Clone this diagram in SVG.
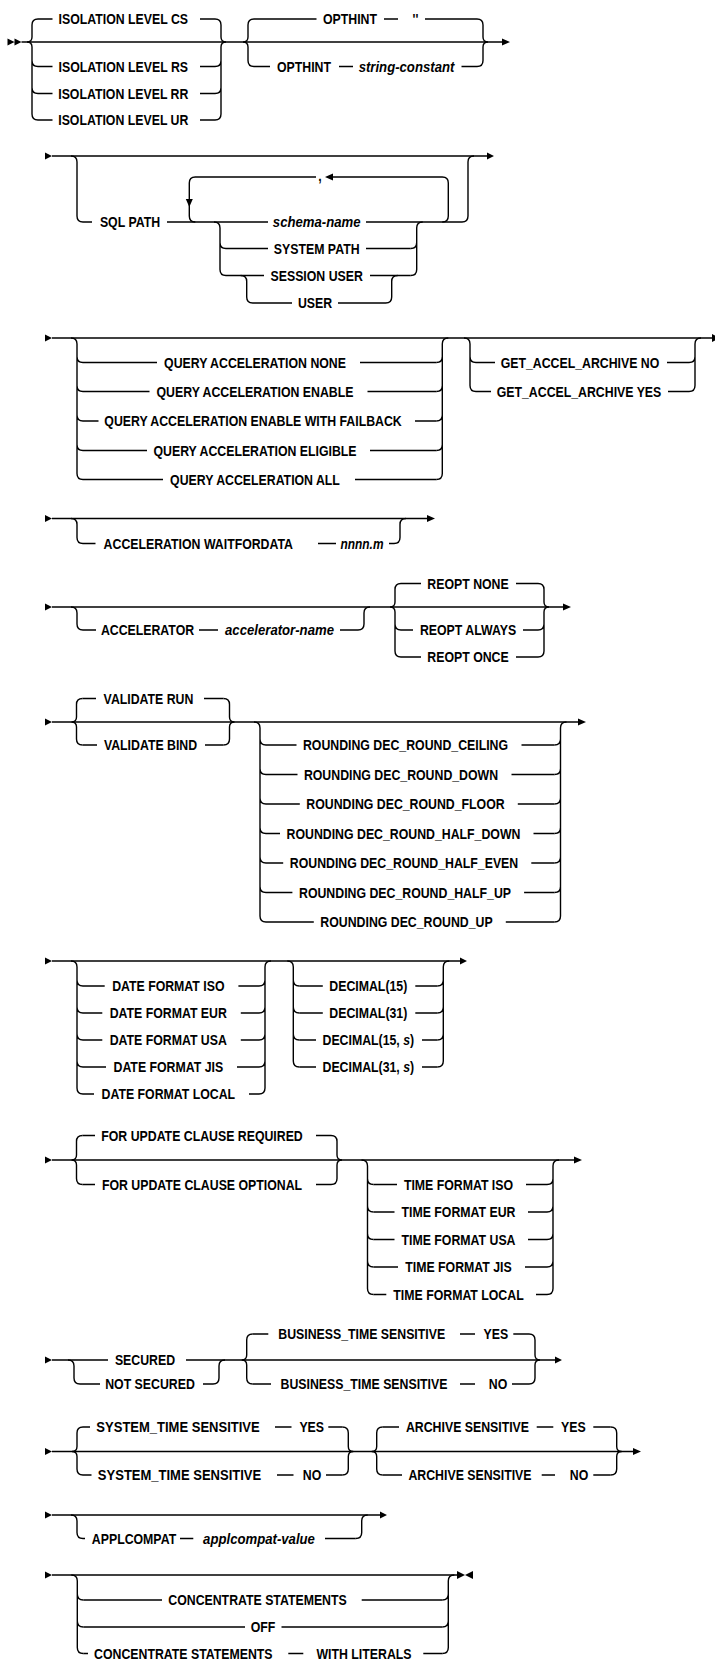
<svg xmlns="http://www.w3.org/2000/svg" width="715" height="1661" viewBox="0 0 715 1661">
<style>
.l{fill:none;stroke:#000;stroke-width:1.4}
.a{fill:#000;stroke:none}
text{font-family:"Liberation Sans",Arial,sans-serif;font-weight:bold;font-size:14px;fill:#000;text-anchor:middle}
.i{font-style:italic}
</style>
<rect width="715" height="1661" fill="#fff"/>
<g id="connectors">
<!-- S1 -->
<path class="a" d="M7.5 38.5L14.5 42L7.5 45.5ZM14.5 38.5L21.5 42L14.5 45.5ZM502 38.5L510 42L502 45.5Z"/>
<path class="l" d="M21.5 42H502"/>
<path class="l" d="M38 19Q32 19 32 25V37Q32 42 27 42M27 42Q32 42 32 47V114Q32 120 38 120M32 60.5Q32 66.5 38 66.5M32 87.5Q32 93.5 38 93.5"/>
<path class="l" d="M215 19Q221 19 221 25V37Q221 42 226 42M226 42Q221 42 221 47V114Q221 120 215 120M215 66.5Q221 66.5 221 60.5M215 93.5Q221 93.5 221 87.5"/>
<path class="l" d="M38 19H52.5M200 19H215M38 66.5H52.5M200 66.5H215M38 93.5H52.5M200 93.5H215M38 120H52.5M200 120H215"/>
<path class="l" d="M254 19Q248 19 248 25V37Q248 42 243 42M243 42Q248 42 248 47V60.5Q248 66.5 254 66.5"/>
<path class="l" d="M477 19Q483 19 483 25V37Q483 42 488 42M488 42Q483 42 483 47V60.5Q483 66.5 477 66.5"/>
<path class="l" d="M254 19H316.5M384 19H398M425 19H477M254 66.5H270M339 66.5H353M461.5 66.5H477"/>
<!-- S2 -->
<path class="a" d="M45 152.5L52 156L45 159.5ZM487 152.5L494 156L487 159.5Z"/>
<path class="l" d="M52 156H487"/>
<path class="l" d="M71 156Q77 156 77 162V216Q77 222 83 222M462 222Q468 222 468 216V162Q468 156 474 156"/>
<path class="l" d="M83 222H92M167 222H268M366 222H462"/>
<path class="l" d="M442.3 222Q448.3 222 448.3 216V183Q448.3 177 442.3 177H333M316 177H195.3Q189.3 177 189.3 183V216Q189.3 222 195.3 222"/>
<path class="a" d="M333 173.5L325 177L333 180.5ZM185.8 199L192.8 199L189.3 207Z"/>
<path class="l" d="M214 222Q220 222 220 228V269.5Q220 275.5 226 275.5M220 242.5Q220 248.5 226 248.5"/>
<path class="l" d="M410.7 275.5Q416.7 275.5 416.7 269.5V228Q416.7 222 422.7 222M410.7 248.5Q416.7 248.5 416.7 242.5"/>
<path class="l" d="M226 248.5H268M366 248.5H410.7M226 275.5H264M370 275.5H410.7"/>
<path class="l" d="M240.7 275.5Q246.7 275.5 246.7 281.5V297Q246.7 303 252.7 303H292M338 303H385.7Q391.7 303 391.7 297V281.5Q391.7 275.5 397.7 275.5"/>
<!-- S3 -->
<path class="a" d="M45 334.5L52 338L45 341.5ZM712 334L720 338L712 342Z"/>
<path class="l" d="M52 338H712"/>
<path class="l" d="M71 338Q77 338 77 344V473.5Q77 479.5 83 479.5M77 356.5Q77 362.5 83 362.5M77 385.5Q77 391.5 83 391.5M77 415Q77 421 83 421M77 444.5Q77 450.5 83 450.5"/>
<path class="l" d="M436.3 479.5Q442.3 479.5 442.3 473.5V344Q442.3 338 448.3 338M436.3 362.5Q442.3 362.5 442.3 356.5M436.3 391.5Q442.3 391.5 442.3 385.5M436.3 421Q442.3 421 442.3 415M436.3 450.5Q442.3 450.5 442.3 444.5"/>
<path class="l" d="M83 362.5H157M360 362.5H436.3M83 391.5H149.5M367.5 391.5H436.3M83 421H98.5M415 421H436.3M83 450.5H147M370 450.5H436.3M83 479.5H163M355 479.5H436.3"/>
<path class="l" d="M464 338Q470 338 470 344V385.5Q470 391.5 476 391.5M470 356.5Q470 362.5 476 362.5"/>
<path class="l" d="M689 391.5Q695 391.5 695 385.5V344Q695 338 701 338M689 362.5Q695 362.5 695 356.5"/>
<path class="l" d="M476 362.5H495M667 362.5H689M476 391.5H491M668 391.5H689"/>
<!-- S4 -->
<path class="a" d="M45 515L52 518.5L45 522ZM427 515L435 518.5L427 522Z"/>
<path class="l" d="M52 518.5H427"/>
<path class="l" d="M71 518.5Q77 518.5 77 524.5V537.5Q77 543.5 83 543.5M394 543.5Q400 543.5 400 537.5V524.5Q400 518.5 406 518.5"/>
<path class="l" d="M83 543.5H95.5M318 543.5H336M389 543.5H394"/>
<!-- S5 -->
<path class="a" d="M45 603.5L52 607L45 610.5ZM563 603.5L571 607L563 610.5Z"/>
<path class="l" d="M52 607H563"/>
<path class="l" d="M71 607Q77 607 77 613V624Q77 630 83 630M358 630Q364 630 364 624V613Q364 607 370 607"/>
<path class="l" d="M83 630H96M199 630H218M340 630H358"/>
<path class="l" d="M401 583.5Q395 583.5 395 589.5V602Q395 607 390 607M390 607Q395 607 395 612V651Q395 657 401 657M395 624Q395 630 401 630"/>
<path class="l" d="M538 583.5Q544 583.5 544 589.5V602Q544 607 549 607M549 607Q544 607 544 612V651Q544 657 538 657M538 630Q544 630 544 624"/>
<path class="l" d="M401 583.5H421M516 583.5H538M401 630H413M523 630H538M401 657H421M516 657H538"/>
<!-- S6 -->
<path class="a" d="M45 718.5L52 722L45 725.5ZM578 718.5L586 722L578 725.5Z"/>
<path class="l" d="M52 722H578"/>
<path class="l" d="M82.5 698.5Q76.5 698.5 76.5 704.5V717Q76.5 722 71.5 722M71.5 722Q76.5 722 76.5 727V739Q76.5 745 82.5 745"/>
<path class="l" d="M223.5 698.5Q229.5 698.5 229.5 704.5V717Q229.5 722 234.5 722M234.5 722Q229.5 722 229.5 727V739Q229.5 745 223.5 745"/>
<path class="l" d="M82.5 698.5H96M204 698.5H223.5M82.5 745H97M205 745H223.5"/>
<path class="l" d="M254 722Q260 722 260 728V916Q260 922 266 922M260 739Q260 745 266 745M260 768.5Q260 774.5 266 774.5M260 798Q260 804 266 804M260 827.5Q260 833.5 266 833.5M260 857Q260 863 266 863M260 886.5Q260 892.5 266 892.5"/>
<path class="l" d="M554.5 922Q560.5 922 560.5 916V728Q560.5 722 566.5 722M554.5 745Q560.5 745 560.5 739M554.5 774.5Q560.5 774.5 560.5 768.5M554.5 804Q560.5 804 560.5 798M554.5 833.5Q560.5 833.5 560.5 827.5M554.5 863Q560.5 863 560.5 857M554.5 892.5Q560.5 892.5 560.5 886.5"/>
<path class="l" d="M266 745H296.5M521.5 745H554.5M266 774.5H297.5M511.5 774.5H554.5M266 804H299.8M517.8 804H554.5M266 833.5H280M533.5 833.5H554.5M266 863H283.2M531.3 863H554.5M266 892.5H292.4M524.1 892.5H554.5M266 922H313.8M505.8 922H554.5"/>
<!-- S7 -->
<path class="a" d="M45 957.5L52 961L45 964.5ZM460 957.5L467 961L460 964.5Z"/>
<path class="l" d="M52 961H460"/>
<path class="l" d="M71 961Q77 961 77 967V1088Q77 1094 83 1094M77 980Q77 986 83 986M77 1007Q77 1013 83 1013M77 1034Q77 1040 83 1040M77 1061Q77 1067 83 1067"/>
<path class="l" d="M259 1094Q265 1094 265 1088V967Q265 961 271 961M259 986Q265 986 265 980M259 1013Q265 1013 265 1007M259 1040Q265 1040 265 1034M259 1067Q265 1067 265 1061"/>
<path class="l" d="M83 986H104.7M238.4 986H259M83 1013H102.3M240.8 1013H259M83 1040H102.3M240.8 1040H259M83 1067H106M237 1067H259M83 1094H94M249 1094H259"/>
<path class="l" d="M287.3 961Q293.3 961 293.3 967V1061Q293.3 1067 299.3 1067M293.3 980Q293.3 986 299.3 986M293.3 1007Q293.3 1013 299.3 1013M293.3 1034Q293.3 1040 299.3 1040"/>
<path class="l" d="M437.3 1067Q443.3 1067 443.3 1061V967Q443.3 961 449.3 961M437.3 986Q443.3 986 443.3 980M437.3 1013Q443.3 1013 443.3 1007M437.3 1040Q443.3 1040 443.3 1034"/>
<path class="l" d="M299.3 986H322.8M415.3 986H437.3M299.3 1013H322.8M415.3 1013H437.3M299.3 1040H316M422 1040H437.3M299.3 1067H316M422 1067H437.3"/>
<!-- S8 -->
<path class="a" d="M45 1156.5L52 1160L45 1163.5ZM574 1156.5L582 1160L574 1163.5Z"/>
<path class="l" d="M52 1160H574"/>
<path class="l" d="M82.5 1135.5Q76.5 1135.5 76.5 1141.5V1155Q76.5 1160 71.5 1160M71.5 1160Q76.5 1160 76.5 1165V1178.5Q76.5 1184.5 82.5 1184.5"/>
<path class="l" d="M331 1135.5Q337 1135.5 337 1141.5V1155Q337 1160 342 1160M342 1160Q337 1160 337 1165V1178.5Q337 1184.5 331 1184.5"/>
<path class="l" d="M82.5 1135.5H95M316 1135.5H331M82.5 1184.5H95M316 1184.5H331"/>
<path class="l" d="M361.5 1160Q367.5 1160 367.5 1166V1288.5Q367.5 1294.5 373.5 1294.5M367.5 1178.5Q367.5 1184.5 373.5 1184.5M367.5 1206Q367.5 1212 373.5 1212M367.5 1233.5Q367.5 1239.5 373.5 1239.5M367.5 1261Q367.5 1267 373.5 1267"/>
<path class="l" d="M547 1294.5Q553 1294.5 553 1288.5V1166Q553 1160 559 1160M547 1184.5Q553 1184.5 553 1178.5M547 1212Q553 1212 553 1206M547 1239.5Q553 1239.5 553 1233.5M547 1267Q553 1267 553 1261"/>
<path class="l" d="M373.5 1184.5H397M526 1184.5H547M373.5 1212H394.5M528 1212H547M373.5 1239.5H394.5M528 1239.5H547M373.5 1267H398M525 1267H547M373.5 1294.5H386.3M536 1294.5H547"/>
<!-- S9 -->
<path class="a" d="M45 1356.5L52 1360L45 1363.5ZM555 1356.5L562 1360L555 1363.5Z"/>
<path class="l" d="M52 1360H108M186 1360H555"/>
<path class="l" d="M68 1360Q74 1360 74 1366V1378Q74 1384 80 1384H100M203 1384H213Q219 1384 219 1378V1366Q219 1360 225 1360"/>
<path class="l" d="M252.7 1334Q246.7 1334 246.7 1340V1355Q246.7 1360 241.7 1360M241.7 1360Q246.7 1360 246.7 1365V1378Q246.7 1384 252.7 1384"/>
<path class="l" d="M529 1334Q535 1334 535 1340V1355Q535 1360 540 1360M540 1360Q535 1360 535 1365V1378Q535 1384 529 1384"/>
<path class="l" d="M252.7 1334H268.3M460 1334H475M513.3 1334H529M252.7 1384H271M460 1384H475M512 1384H529"/>
<!-- S10 -->
<path class="a" d="M45 1448L52 1451.5L45 1455ZM633 1448L641 1451.5L633 1455Z"/>
<path class="l" d="M52 1451.5H633"/>
<path class="l" d="M83 1427Q77 1427 77 1433V1446.5Q77 1451.5 72 1451.5M72 1451.5Q77 1451.5 77 1456.5V1469Q77 1475 83 1475"/>
<path class="l" d="M342.3 1427Q348.3 1427 348.3 1433V1446.5Q348.3 1451.5 353.3 1451.5M353.3 1451.5Q348.3 1451.5 348.3 1456.5V1469Q348.3 1475 342.3 1475"/>
<path class="l" d="M83 1427H90M275 1427H291.5M328.3 1427H342.3M83 1475H91.5M277 1475H293.5M326 1475H342.3"/>
<path class="l" d="M382.7 1427Q376.7 1427 376.7 1433V1446.5Q376.7 1451.5 371.7 1451.5M371.7 1451.5Q376.7 1451.5 376.7 1456.5V1469Q376.7 1475 382.7 1475"/>
<path class="l" d="M610.7 1427Q616.7 1427 616.7 1433V1446.5Q616.7 1451.5 621.7 1451.5M621.7 1451.5Q616.7 1451.5 616.7 1456.5V1469Q616.7 1475 610.7 1475"/>
<path class="l" d="M382.7 1427H399M536.7 1427H553.3M593.3 1427H610.7M382.7 1475H402M541.7 1475H555M593.3 1475H610.7"/>
<!-- S11 -->
<path class="a" d="M45 1511.5L52 1515L45 1518.5ZM380 1511.5L387 1515L380 1518.5Z"/>
<path class="l" d="M52 1515H380"/>
<path class="l" d="M71 1515Q77 1515 77 1521V1532.5Q77 1538.5 83 1538.5M355.7 1538.5Q361.7 1538.5 361.7 1532.5V1521Q361.7 1515 367.7 1515"/>
<path class="l" d="M83 1538.5H85M180 1538.5H193.3M325 1538.5H355.7"/>
<!-- S12 -->
<path class="a" d="M45 1571.5L52 1575L45 1578.5ZM457 1571L465 1575L457 1579ZM473 1571L465 1575L473 1579Z"/>
<path class="l" d="M52 1575H458"/>
<path class="l" d="M71.3 1575Q77.3 1575 77.3 1581V1647.5Q77.3 1653.5 83.3 1653.5M77.3 1594Q77.3 1600 83.3 1600M77.3 1621Q77.3 1627 83.3 1627"/>
<path class="l" d="M442.3 1653.5Q448.3 1653.5 448.3 1647.5V1581Q448.3 1575 454.3 1575M442.3 1600Q448.3 1600 448.3 1594M442.3 1627Q448.3 1627 448.3 1621"/>
<path class="l" d="M83.3 1600H162M361.7 1600H442.3M83.3 1627H245M281.5 1627H442.3M83.3 1653.5H88M288.3 1653.5H303.3M423.3 1653.5H442.3"/>
</g>
<g id="isolation-cs"><text transform="translate(123.3 24) scale(.88 1)">ISOLATION LEVEL CS</text></g>
<g id="isolation-rs"><text transform="translate(123.3 71.5) scale(.88 1)">ISOLATION LEVEL RS</text></g>
<g id="isolation-rr"><text transform="translate(123.3 98.5) scale(.88 1)">ISOLATION LEVEL RR</text></g>
<g id="isolation-ur"><text transform="translate(123.3 125) scale(.88 1)">ISOLATION LEVEL UR</text></g>
<g id="opthint-default"><text transform="translate(350 24) scale(.88 1)">OPTHINT</text><text transform="translate(415.5 24) scale(.88 1)">''</text></g>
<g id="opthint-string"><text transform="translate(304 71.5) scale(.88 1)">OPTHINT</text><text class="i" transform="translate(406.5 71.5) scale(.94 1)">string-constant</text></g>
<g id="sql-path"><text transform="translate(130 227) scale(.88 1)">SQL PATH</text></g>
<g id="repeat-sep"><text transform="translate(320 181) scale(.88 1)">,</text></g>
<g id="schema-name"><text class="i" transform="translate(316.7 227) scale(.94 1)">schema-name</text></g>
<g id="system-path"><text transform="translate(316.7 253.5) scale(.88 1)">SYSTEM PATH</text></g>
<g id="session-user"><text transform="translate(316.7 280.5) scale(.88 1)">SESSION USER</text></g>
<g id="user"><text transform="translate(315 308) scale(.88 1)">USER</text></g>
<g id="qa-none"><text transform="translate(255 367.5) scale(.88 1)">QUERY ACCELERATION NONE</text></g>
<g id="qa-enable"><text transform="translate(255 396.5) scale(.88 1)">QUERY ACCELERATION ENABLE</text></g>
<g id="qa-failback"><text transform="translate(253 426) scale(.88 1)">QUERY ACCELERATION ENABLE WITH FAILBACK</text></g>
<g id="qa-eligible"><text transform="translate(255 455.5) scale(.88 1)">QUERY ACCELERATION ELIGIBLE</text></g>
<g id="qa-all"><text transform="translate(255 484.5) scale(.88 1)">QUERY ACCELERATION ALL</text></g>
<g id="get-no"><text transform="translate(580 367.5) scale(.88 1)">GET_ACCEL_ARCHIVE NO</text></g>
<g id="get-yes"><text transform="translate(579 396.5) scale(.88 1)">GET_ACCEL_ARCHIVE YES</text></g>
<g id="waitfordata"><text transform="translate(198.3 548.5) scale(.88 1)">ACCELERATION WAITFORDATA</text><text class="i" transform="translate(362 548.5) scale(.85 1)">nnnn.m</text></g>
<g id="accelerator"><text transform="translate(147.5 635) scale(.88 1)">ACCELERATOR</text><text class="i" transform="translate(279.5 635) scale(.94 1)">accelerator-name</text></g>
<g id="reopt-none"><text transform="translate(468 588.5) scale(.88 1)">REOPT NONE</text></g>
<g id="reopt-always"><text transform="translate(468 635) scale(.88 1)">REOPT ALWAYS</text></g>
<g id="reopt-once"><text transform="translate(468 662) scale(.88 1)">REOPT ONCE</text></g>
<g id="validate-run"><text transform="translate(148.5 703.5) scale(.88 1)">VALIDATE RUN</text></g>
<g id="validate-bind"><text transform="translate(150.5 750) scale(.88 1)">VALIDATE BIND</text></g>
<g id="round-ceiling"><text transform="translate(405.5 750) scale(.88 1)">ROUNDING DEC_ROUND_CEILING</text></g>
<g id="round-down"><text transform="translate(401 779.5) scale(.88 1)">ROUNDING DEC_ROUND_DOWN</text></g>
<g id="round-floor"><text transform="translate(405.5 809) scale(.88 1)">ROUNDING DEC_ROUND_FLOOR</text></g>
<g id="round-half-down"><text transform="translate(403.5 838.5) scale(.88 1)">ROUNDING DEC_ROUND_HALF_DOWN</text></g>
<g id="round-half-even"><text transform="translate(404 868) scale(.88 1)">ROUNDING DEC_ROUND_HALF_EVEN</text></g>
<g id="round-half-up"><text transform="translate(405 897.5) scale(.88 1)">ROUNDING DEC_ROUND_HALF_UP</text></g>
<g id="round-up"><text transform="translate(406.5 927) scale(.88 1)">ROUNDING DEC_ROUND_UP</text></g>
<g id="date-iso"><text transform="translate(168.3 991) scale(.88 1)">DATE FORMAT ISO</text></g>
<g id="date-eur"><text transform="translate(168.3 1018) scale(.88 1)">DATE FORMAT EUR</text></g>
<g id="date-usa"><text transform="translate(168.3 1045) scale(.88 1)">DATE FORMAT USA</text></g>
<g id="date-jis"><text transform="translate(168.3 1072) scale(.88 1)">DATE FORMAT JIS</text></g>
<g id="date-local"><text transform="translate(168.3 1099) scale(.88 1)">DATE FORMAT LOCAL</text></g>
<g id="decimal-15"><text transform="translate(368.3 991) scale(.88 1)">DECIMAL(15)</text></g>
<g id="decimal-31"><text transform="translate(368.3 1018) scale(.88 1)">DECIMAL(31)</text></g>
<g id="decimal-15-s"><text transform="translate(368.3 1045) scale(.88 1)">DECIMAL(15, <tspan class="i">s</tspan>)</text></g>
<g id="decimal-31-s"><text transform="translate(368.3 1072) scale(.88 1)">DECIMAL(31, <tspan class="i">s</tspan>)</text></g>
<g id="for-update-required"><text transform="translate(202 1140.5) scale(.88 1)">FOR UPDATE CLAUSE REQUIRED</text></g>
<g id="for-update-optional"><text transform="translate(202 1189.5) scale(.88 1)">FOR UPDATE CLAUSE OPTIONAL</text></g>
<g id="time-iso"><text transform="translate(458.5 1189.5) scale(.88 1)">TIME FORMAT ISO</text></g>
<g id="time-eur"><text transform="translate(458.5 1217) scale(.88 1)">TIME FORMAT EUR</text></g>
<g id="time-usa"><text transform="translate(458.5 1244.5) scale(.88 1)">TIME FORMAT USA</text></g>
<g id="time-jis"><text transform="translate(458.5 1272) scale(.88 1)">TIME FORMAT JIS</text></g>
<g id="time-local"><text transform="translate(458.5 1299.5) scale(.88 1)">TIME FORMAT LOCAL</text></g>
<g id="secured"><text transform="translate(145 1365) scale(.88 1)">SECURED</text></g>
<g id="not-secured"><text transform="translate(150 1389) scale(.88 1)">NOT SECURED</text></g>
<g id="business-yes"><text transform="translate(361.7 1339) scale(.88 1)">BUSINESS_TIME SENSITIVE</text><text transform="translate(495.8 1339) scale(.88 1)">YES</text></g>
<g id="business-no"><text transform="translate(364 1389) scale(.88 1)">BUSINESS_TIME SENSITIVE</text><text transform="translate(498 1389) scale(.88 1)">NO</text></g>
<g id="system-time-yes"><text transform="translate(178 1432) scale(.93 1)">SYSTEM_TIME SENSITIVE</text><text transform="translate(311.7 1432) scale(.88 1)">YES</text></g>
<g id="system-time-no"><text transform="translate(179.5 1480) scale(.93 1)">SYSTEM_TIME SENSITIVE</text><text transform="translate(312 1480) scale(.88 1)">NO</text></g>
<g id="archive-yes"><text transform="translate(467.5 1432) scale(.88 1)">ARCHIVE SENSITIVE</text><text transform="translate(573.3 1432) scale(.88 1)">YES</text></g>
<g id="archive-no"><text transform="translate(470 1480) scale(.88 1)">ARCHIVE SENSITIVE</text><text transform="translate(579 1480) scale(.88 1)">NO</text></g>
<g id="applcompat"><text transform="translate(134 1543.5) scale(.88 1)">APPLCOMPAT</text><text class="i" transform="translate(259 1543.5) scale(.94 1)">applcompat-value</text></g>
<g id="concentrate"><text transform="translate(257.5 1605) scale(.88 1)">CONCENTRATE STATEMENTS</text></g>
<g id="off"><text transform="translate(263 1632) scale(.88 1)">OFF</text></g>
<g id="concentrate-literals"><text transform="translate(183.3 1658.5) scale(.88 1)">CONCENTRATE STATEMENTS</text><text transform="translate(364 1658.5) scale(.88 1)">WITH LITERALS</text></g>
</svg>
